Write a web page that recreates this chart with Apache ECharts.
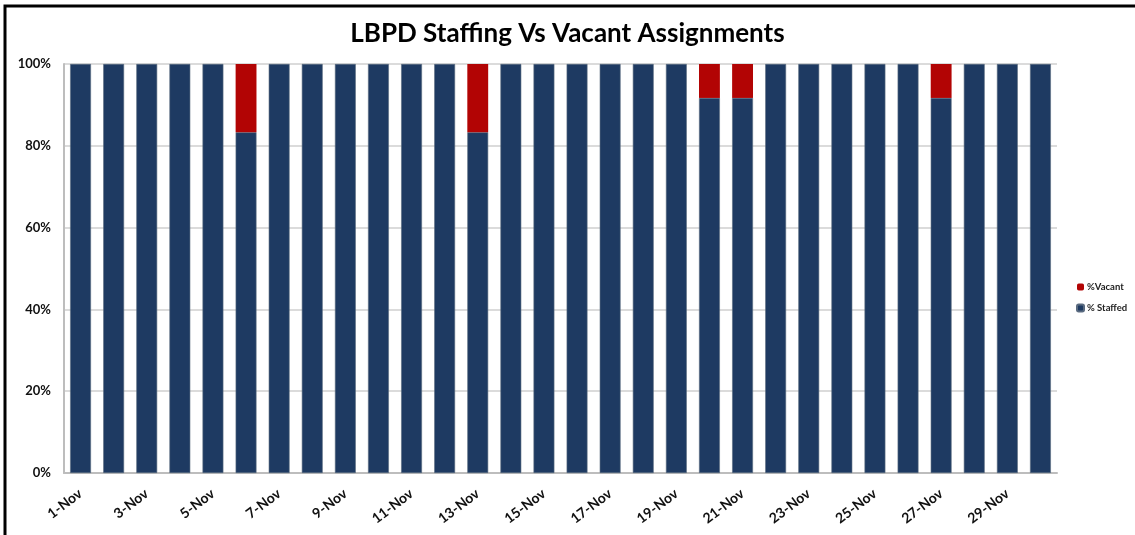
<!DOCTYPE html>
<html>
<head>
<meta charset="utf-8">
<script src="https://cdn.jsdelivr.net/npm/echarts@6/dist/echarts.min.js"></script>
<style>
  html, body { margin: 0; padding: 0; background: #fff; }
  #chart { width: 1135px; height: 535px; }
</style>
</head>
<body>
<div id="chart"></div>
<script>
// data
const days = [];
for (let d = 1; d <= 30; d++) days.push(d + '-Nov');

const staffed = [
  100, 100, 100, 100, 100, 83.3, 100, 100, 100, 100,
  100, 100, 83.3, 100, 100, 100, 100, 100, 100, 91.7,
  91.7, 100, 100, 100, 100, 100, 91.7, 100, 100, 100
];
const vacant = [
  0, 0, 0, 0, 0, 16.7, 0, 0, 0, 0,
  0, 0, 16.7, 0, 0, 0, 0, 0, 0, 8.3,
  8.3, 0, 0, 0, 0, 0, 8.3, 0, 0, 0
];
const yTicks = [0, 20, 40, 60, 80, 100];

const font = 'Lato, "Open Sans", sans-serif';
const chart = echarts.init(document.getElementById('chart'));

const option = {
  backgroundColor: '#fff',
  animation: false,
  title: {
    text: 'LBPD Staffing Vs Vacant Assignments',
    left: 'center',
    top: 16,
    textStyle: { fontFamily: font, fontSize: 26, fontWeight: 'bold', color: '#000' }
  },
  legend: {
    data: ['%Vacant', '% Staffed'],
    orient: 'vertical',
    left: 1071,
    top: 277,
    itemWidth: 7,
    itemHeight: 7,
    itemGap: 11,
    textStyle: { fontFamily: font, fontSize: 9.5, fontWeight: 'bold', color: '#222', padding: [0, 0, 0, -2] }
  },
  grid: { left: 64, right: 78, top: 64, bottom: 62 },
  xAxis: {
    type: 'category',
    data: days,
    axisLine: { lineStyle: { color: '#bdbdbd', width: 2 } },
    axisTick: { show: false },
    axisLabel: {
      interval: 1,
      rotate: 37,
      margin: 19,
      fontFamily: font,
      fontSize: 14,
      fontWeight: 'bold',
      color: '#111'
    }
  },
  yAxis: {
    type: 'value',
    min: yTicks[0],
    max: yTicks[yTicks.length - 1],
    interval: 20,
    axisLine: { show: true, lineStyle: { color: '#bdbdbd', width: 2 } },
    axisTick: { show: false },
    axisLabel: {
      formatter: '{value}%',
      margin: 13,
      fontFamily: font,
      fontSize: 13,
      fontWeight: 'bold',
      color: '#111'
    },
    splitLine: { lineStyle: { color: '#cfcfcf', width: 1.5 } }
  },
  series: [
    {
      name: '% Staffed',
      type: 'bar',
      stack: 'total',
      barCategoryGap: '37%',
      data: staffed,
      itemStyle: {
        color: '#1e3a62',
        borderColor: '#5a6b80',
        borderWidth: 0.6
      }
    },
    {
      name: '%Vacant',
      type: 'bar',
      stack: 'total',
      data: vacant,
      itemStyle: {
        color: '#b20404',
        borderWidth: 0
      }
    }
  ],
  graphic: [
    {
      type: 'polyline',
      shape: { points: [[5, 560], [5, 6], [1160, 6]] },
      style: { fill: null, stroke: '#000', lineWidth: 3 },
      silent: true
    }
  ]
};

chart.setOption(option);
</script>
</body>
</html>
